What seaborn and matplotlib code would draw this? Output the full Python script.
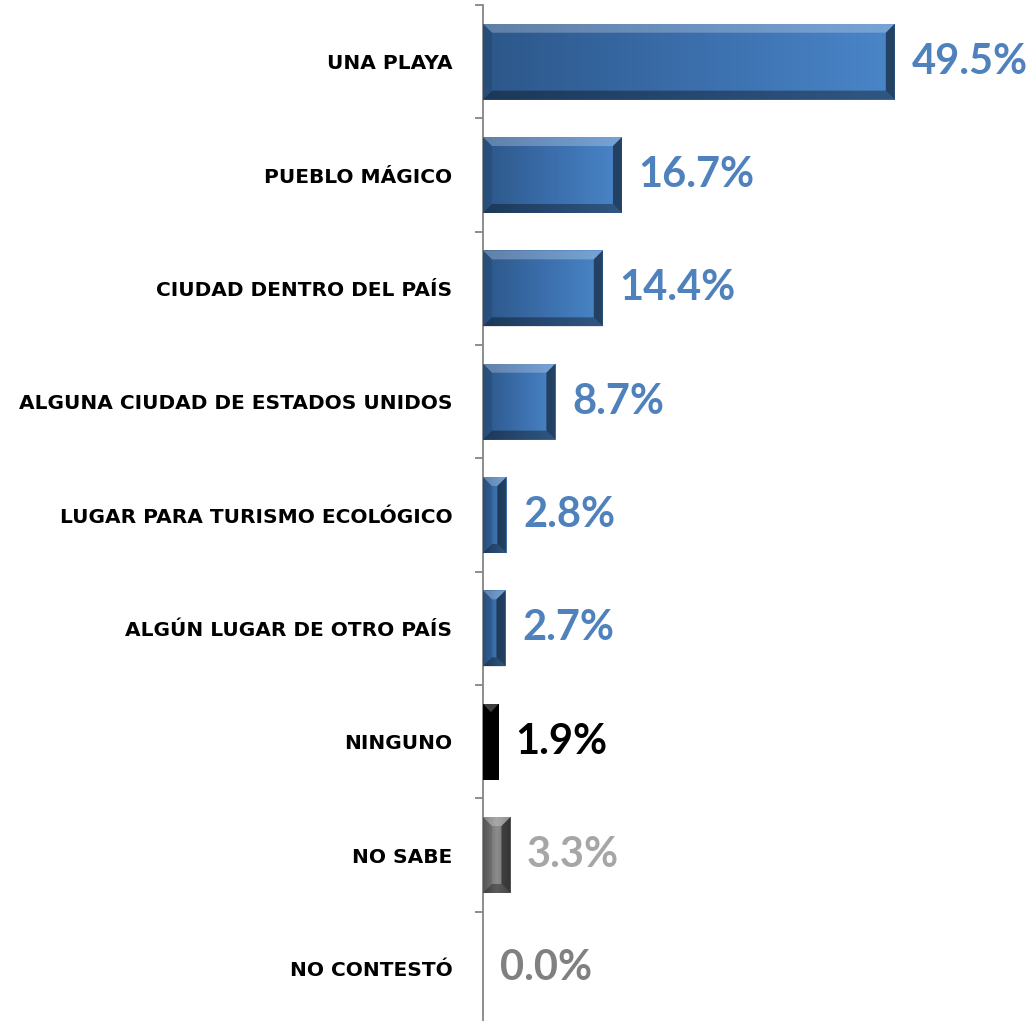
import matplotlib
matplotlib.use("Agg")
import matplotlib.pyplot as plt
import numpy as np
import pandas as pd
import seaborn as sns
from matplotlib.colors import LinearSegmentedColormap
from matplotlib.patches import Polygon

categories = [
    "UNA PLAYA",
    "PUEBLO MÁGICO",
    "CIUDAD DENTRO DEL PAÍS",
    "ALGUNA CIUDAD DE ESTADOS UNIDOS",
    "LUGAR PARA TURISMO ECOLÓGICO",
    "ALGÚN LUGAR DE OTRO PAÍS",
    "NINGUNO",
    "NO SABE",
    "NO CONTESTÓ",
]
values = [49.5, 16.7, 14.4, 8.7, 2.8, 2.7, 1.9, 3.3, 0.0]
kinds = ["blue"] * 6 + ["black", "grey", "grey"]

base_colors = {"blue": "#3C6EAA", "black": "#000000", "grey": "#7A7A7A"}
grad_colors = {
    "blue": ["#2C5789", "#3B6EAB", "#4A86C9"],
    "black": ["#000000", "#000000", "#000000"],
    "grey": ["#5E5E5E", "#8C8C8C", "#6A6A6A"],
}
label_colors = ["#4F81BD"] * 6 + ["#000000", "#A6A6A6", "#808080"]

df = pd.DataFrame({"category": categories, "value": values, "kind": kinds})

sns.set_theme(style="white")
plt.rcParams["font.family"] = ["Lato", "DejaVu Sans"]

fig = plt.figure(figsize=(10.36, 10.21), dpi=100)
ax = fig.add_axes([483 / 1036, 1 - 1025 / 1021, 553 / 1036, 1020 / 1021])

sns.barplot(
    data=df, x="value", y="category", hue="category",
    palette=[base_colors[k] for k in kinds], legend=False,
    orient="h", width=0.67, ax=ax, zorder=2,
)
ax.set_xlim(0, 553 / 8.32)
ax.set_ylim(len(categories) - 0.5, -0.5)

# pixel scale for bevel sizes
p0 = ax.transData.transform((0, 0))
p1 = ax.transData.transform((1, 1))
sx, sy = abs(p1[0] - p0[0]), abs(p1[1] - p0[1])

for patch, kind in zip(ax.patches, kinds):
    x0, y0 = patch.get_x(), patch.get_y()
    w, h = patch.get_width(), patch.get_height()
    if w <= 0:
        continue
    y1 = y0 + h
    x1 = x0 + w
    cmap = LinearSegmentedColormap.from_list(kind, grad_colors[kind])
    grad = np.linspace(0, 1, 256).reshape(1, -1)
    ax.imshow(grad, cmap=cmap, extent=(x0, x1, y1, y0), aspect="auto", zorder=3)
    bpx = min(9.0, w * sx / 2.2)
    bx = bpx / sx
    by = min(9.0, bpx * 1.1) / sy
    # y0 is top (axis inverted)
    top = [(x0, y0), (x1, y0), (x1 - bx, y0 + by), (x0 + bx, y0 + by)]
    bot = [(x0, y1), (x1, y1), (x1 - bx, y1 - by), (x0 + bx, y1 - by)]
    left = [(x0, y0), (x0 + bx, y0 + by), (x0 + bx, y1 - by), (x0, y1)]
    right = [(x1, y0), (x1 - bx, y0 + by), (x1 - bx, y1 - by), (x1, y1)]
    for poly, col, a in [
        (top, "white", 0.25),
        (bot, "black", 0.35),
        (left, "black", 0.10),
        (right, "black", 0.50),
    ]:
        ax.add_patch(Polygon(poly, closed=True, facecolor=col, alpha=a,
                             edgecolor="none", zorder=4))

for i, (v, c) in enumerate(zip(values, label_colors)):
    ax.annotate(f"{v:.1f}%", xy=(v, i), xytext=(12, 0), textcoords="offset points",
                ha="left", va="center", fontsize=30, fontweight="bold", color=c)

ax.set_xlabel("")
ax.set_ylabel("")
ax.set_xticks([])
ax.set_yticks(range(len(categories)))
ax.set_yticklabels(categories, fontsize=14.5, fontweight="bold", color="black",
                   family=["DejaVu Sans"])
ax.tick_params(axis="y", which="major", length=0, pad=22)
ax.set_yticks(np.arange(-0.5, len(categories), 1.0), minor=True)
ax.tick_params(axis="y", which="minor", left=True, length=6, width=1.3, color="#858585")
for s in ["top", "right", "bottom"]:
    ax.spines[s].set_visible(False)
ax.spines["left"].set_color("#858585")
ax.spines["left"].set_linewidth(1.3)
ax.set_facecolor("none")

fig.savefig("out.png", dpi=100)
